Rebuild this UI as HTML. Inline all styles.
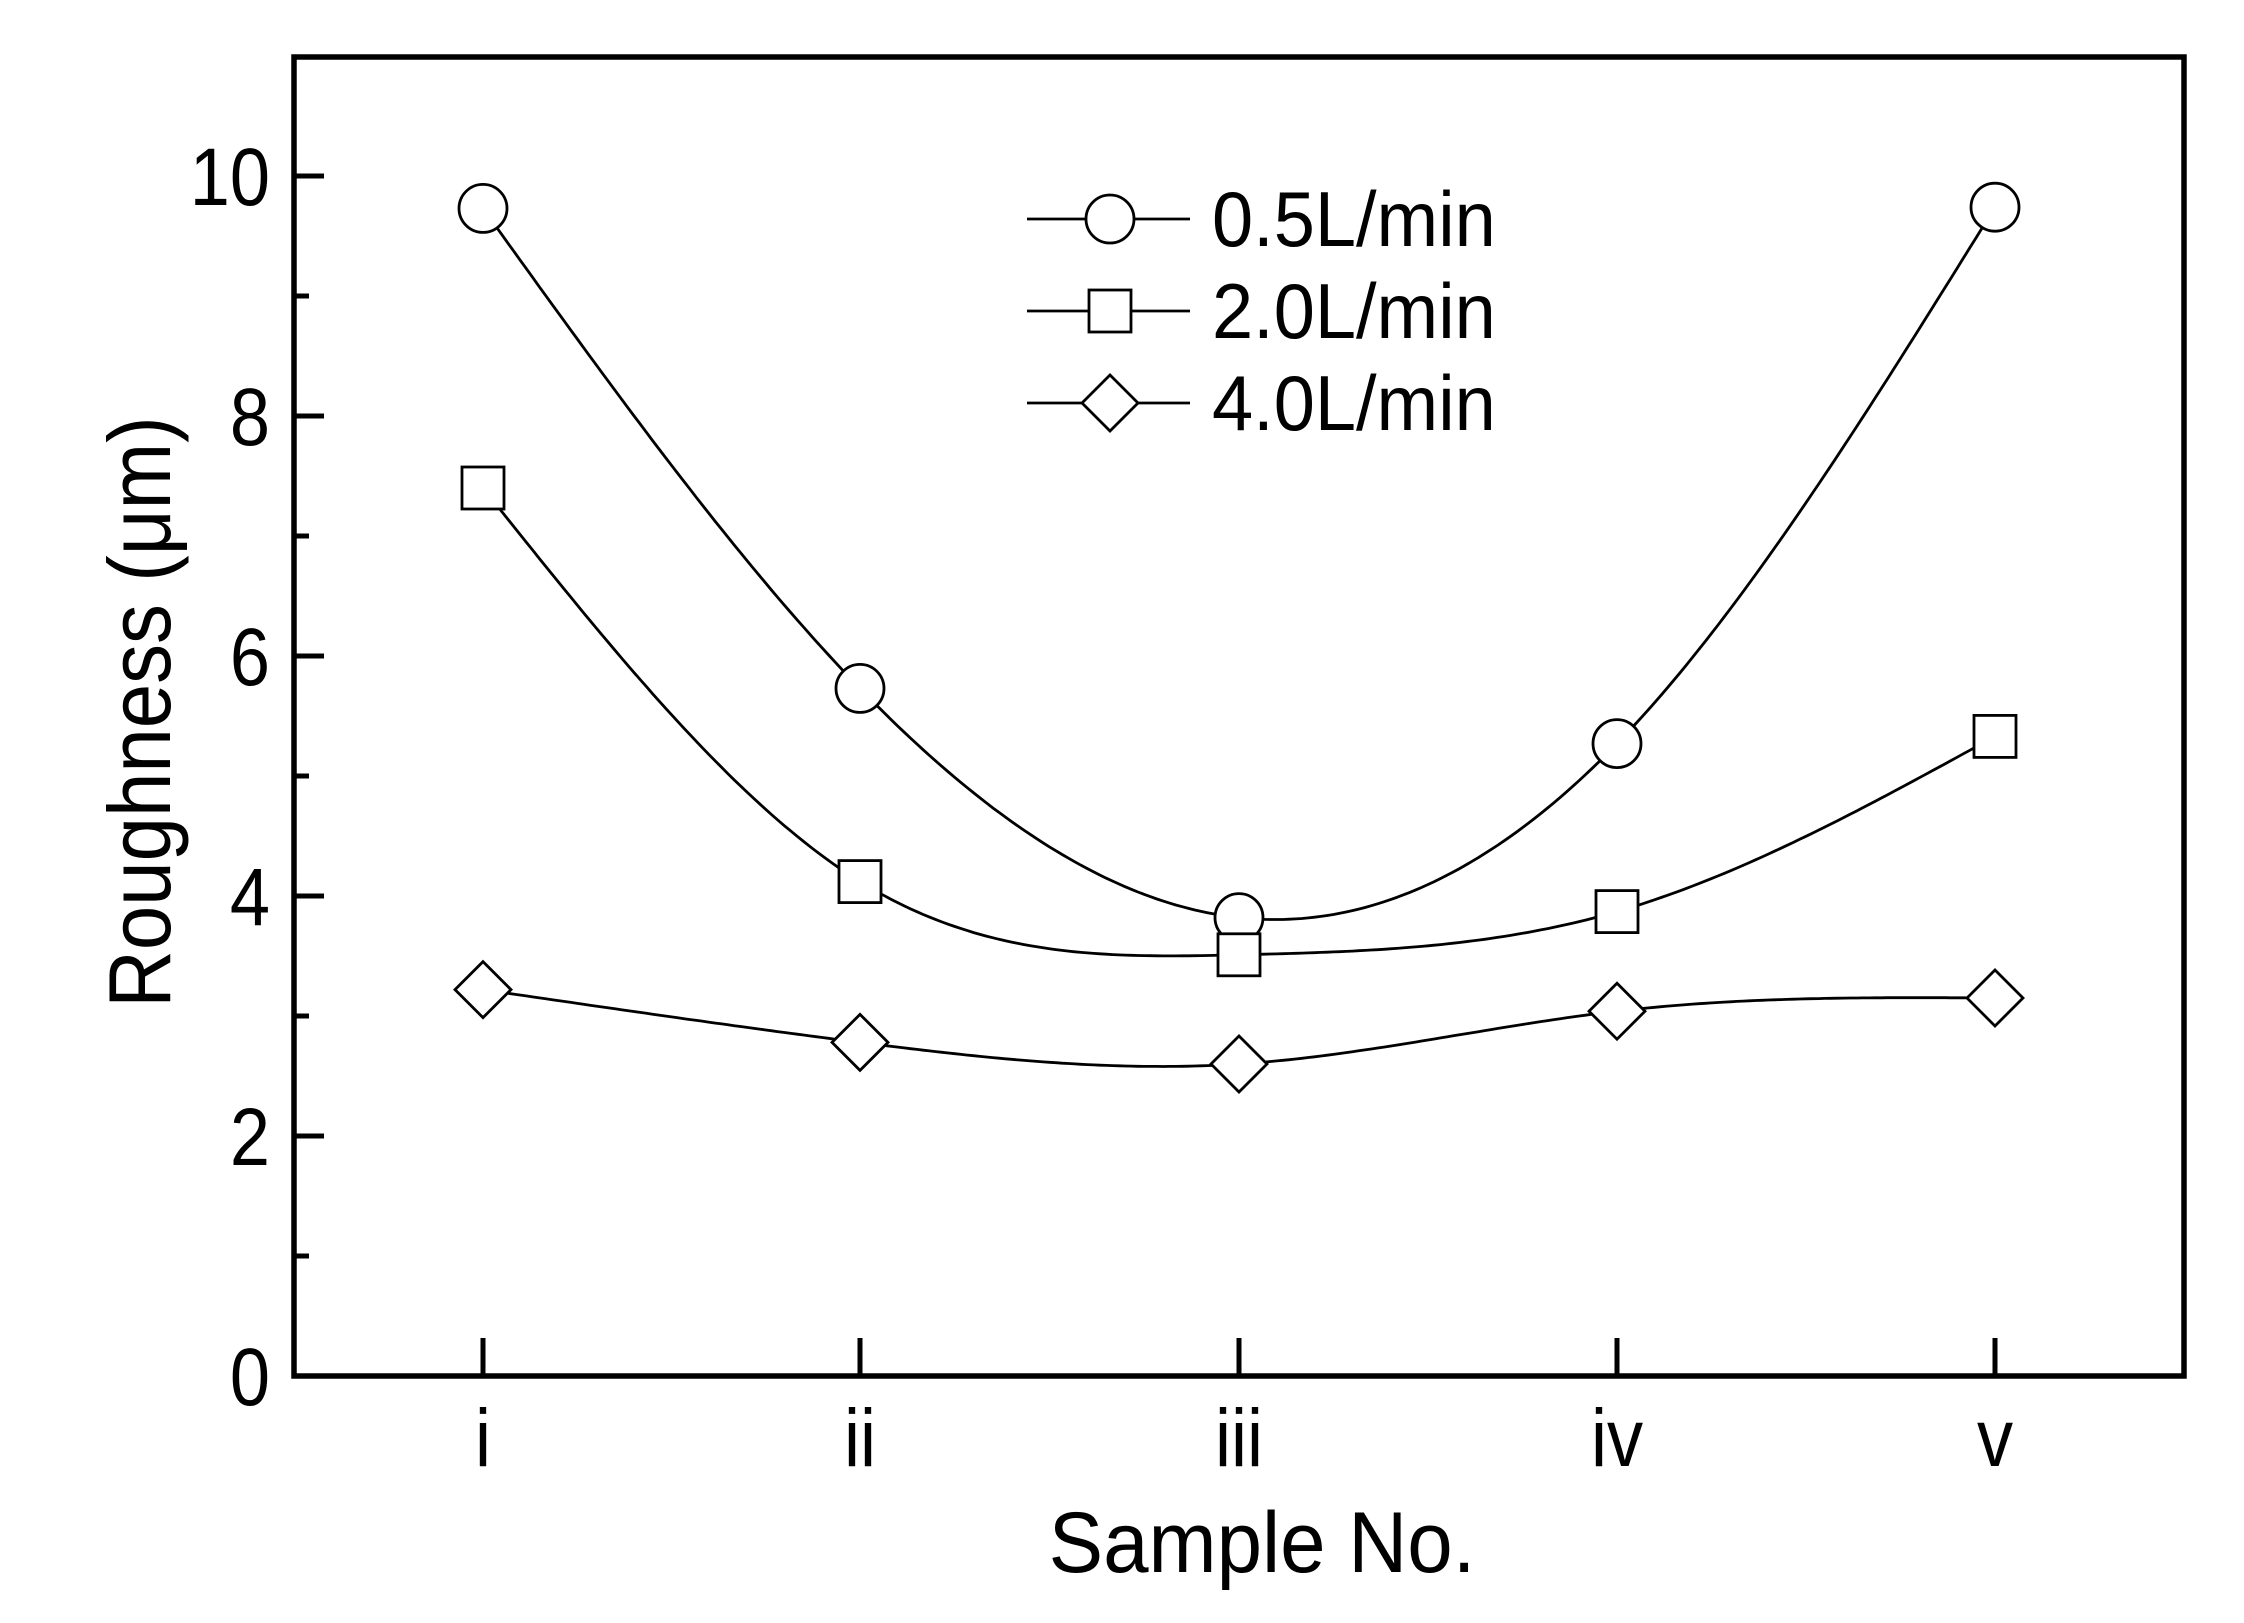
<!DOCTYPE html>
<html><head><meta charset="utf-8"><style>
html,body{margin:0;padding:0;background:#fff;}
svg{display:block;}
text{font-family:"Liberation Sans",Arial,sans-serif;fill:#000;}
</style></head><body>
<svg id="s" width="2244" height="1623" viewBox="0 0 2244 1623" xmlns="http://www.w3.org/2000/svg">
<rect x="0" y="0" width="2244" height="1623" fill="#fff"/>
<g id="axes"></g>
<g id="curves" fill="none" stroke="#000" stroke-width="2.8"></g>
<g id="marks" fill="#fff" stroke="#000" stroke-width="2.8"></g>
<text transform="translate(1262,1572) scale(0.95,1)" font-size="86" text-anchor="middle">Sample No.</text>
<text transform="translate(170,712) rotate(-90) scale(0.95,1.05)" font-size="84" text-anchor="middle">Roughness (μm)</text>
</svg>
<script>
var NS="http://www.w3.org/2000/svg";
function el(p,t,a,txt){var e=document.createElementNS(NS,t);for(var k in a)e.setAttribute(k,a[k]);if(txt)e.textContent=txt;document.getElementById(p).appendChild(e);return e;}
var L=294,R=2184,T=57,B=1376;
var xs=[483,860,1239,1617,1995];
function Y(v){return B-v*120;}
el("axes","rect",{x:L,y:T,width:R-L,height:B-T,fill:"none",stroke:"#000","stroke-width":5.5});
for(var v=0;v<=10;v++){var y=Y(v);el("axes","line",{x1:L,x2:L+(v%2==0?30:15),y1:y,y2:y,stroke:"#000","stroke-width":5});
 if(v%2==0)el("axes","text",{transform:"translate("+(L-24)+","+(y+29)+") scale(0.88,1)","font-size":82,"text-anchor":"end"},String(v));}
var labs=["i","ii","iii","iv","v"];
xs.forEach(function(x,i){el("axes","line",{x1:x,x2:x,y1:B,y2:B-38,stroke:"#000","stroke-width":5});
 el("axes","text",{transform:"translate("+x+",1466) scale(0.88,1)","font-size":82,"text-anchor":"middle"},labs[i]);});
var data=[[9.73,5.73,3.82,5.27,9.74],[7.40,4.12,3.51,3.87,5.33],[3.22,2.78,2.60,3.04,3.15]];
function spline(xv,yv){var n=xv.length,h=[],a=[],l=[1],mu=[0],z=[0],c=[],b=[],d=[];
 for(var i=0;i<n-1;i++)h[i]=xv[i+1]-xv[i];
 for(i=1;i<n-1;i++)a[i]=3/h[i]*(yv[i+1]-yv[i])-3/h[i-1]*(yv[i]-yv[i-1]);
 for(i=1;i<n-1;i++){l[i]=2*(xv[i+1]-xv[i-1])-h[i-1]*mu[i-1];mu[i]=h[i]/l[i];z[i]=(a[i]-h[i-1]*z[i-1])/l[i];}
 l[n-1]=1;z[n-1]=0;c[n-1]=0;
 for(var j=n-2;j>=0;j--){c[j]=z[j]-mu[j]*c[j+1];b[j]=(yv[j+1]-yv[j])/h[j]-h[j]*(c[j+1]+2*c[j])/3;d[j]=(c[j+1]-c[j])/(3*h[j]);}
 var s="";for(i=0;i<n-1;i++){for(var k=0;k<=60;k++){var t=h[i]*k/60;var yy=yv[i]+b[i]*t+c[i]*t*t+d[i]*t*t*t;
   s+=(s?" L":"M")+(xv[i]+t).toFixed(1)+","+yy.toFixed(1);}}return s;}
function marker(k,x,y){
 if(k==0)el("marks","circle",{cx:x,cy:y,r:24});
 else if(k==1)el("marks","rect",{x:x-21,y:y-21,width:42,height:42});
 else el("marks","polygon",{points:[x,y-28,x+28,y,x,y+28,x-28,y].join(" ")});}
data.forEach(function(d,k){var yv=d.map(Y);
 el("curves","path",{d:spline(xs,yv)});xs.forEach(function(x,i){marker(k,x,yv[i]);});});
var ly=[219,311,403],names=["0.5L/min","2.0L/min","4.0L/min"];
ly.forEach(function(y,k){el("curves","line",{x1:1027,x2:1190,y1:y,y2:y});marker(k,1110,y);
 el("axes","text",{transform:"translate(1212,"+(y+27)+") scale(1.0,1.05)","font-size":74},names[k]);});
</script>
</body></html>
